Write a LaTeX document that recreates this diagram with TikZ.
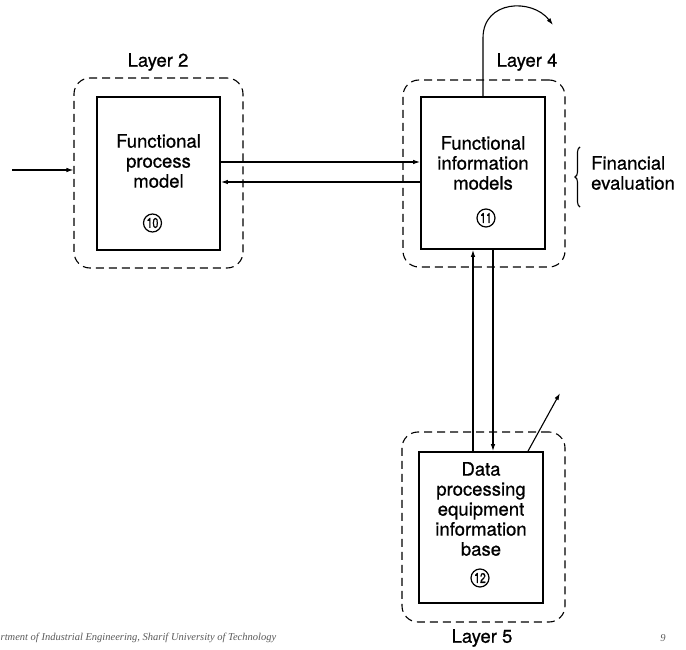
\documentclass[tikz,border=0pt]{standalone}
\usepackage{fontspec}
\setmainfont{TeX Gyre Heros}[FakeBold=0.8]
\newfontfamily\footfont{Liberation Serif}
\usetikzlibrary{arrows.meta,calc,decorations.pathreplacing}
\begin{document}
\begin{tikzpicture}[x=1pt,y=-1pt,
  lbl/.style={font=\fontsize{18.5}{20}\selectfont, inner sep=0pt, align=center},
  boxx/.style={draw, line width=1.7pt, inner sep=0pt},
  layerbox/.style={draw, dashed, dash pattern=on 8pt off 5pt, line width=1.1pt, rounded corners=16pt, inner sep=0pt},
  conn/.style={line width=1.1pt, -{Latex[length=7pt,width=4.5pt]}},
  cnum/.style={draw, circle, line width=1.2pt, inner sep=0pt, minimum size=18pt, font=\fontsize{14}{14}\selectfont},
  foot/.style={font=\footfont\itshape\fontsize{10.5}{13}\selectfont, text=black!65, inner sep=0pt}
]
\useasboundingbox (0,0) rectangle (686,650);

% layer (dashed) boxes
\node[layerbox, minimum width=169pt, minimum height=190pt] (l2) at (158.5,173) {};
\node[layerbox, minimum width=162pt, minimum height=187pt] (l4) at (484,173.5) {};
\node[layerbox, minimum width=163pt, minimum height=190pt] (l5) at (483.5,527) {};

% inner solid boxes
\node[boxx, minimum width=123pt, minimum height=153pt] (b1) at (158.5,173.5) {};
\node[boxx, minimum width=124pt, minimum height=152pt] (b2) at (483,173) {};
\node[boxx, minimum width=124pt, minimum height=151pt] (b3) at (481,527.5) {};

% texts
\node[lbl] (t1) at (158.5,161) {Functional\\process\\model};
\node[lbl] (t2) at (483,163) {Functional\\information\\models};
\node[lbl] (t3) at (481,509) {Data\\processing\\equipment\\information\\base};

\node[cnum] (c1) at (152.5,223) {\scalebox{0.75}[1]{10}};
\node[cnum] (c2) at (486,218) {\scalebox{0.75}[1]{11}};
\node[cnum] (c3) at (480,578) {\scalebox{0.75}[1]{12}};

\node[lbl] (lay2) at (158,62) {Layer 2};
\node[lbl] (lay4) at (527,62) {Layer 4};
\node[lbl] (lay5) at (482,638) {Layer 5};

\node[lbl, align=left, anchor=west] (fin) at (591,173) {Financial\\evaluation};
\draw[line width=1.1pt, decorate, decoration={brace, amplitude=5pt}] (580,207) -- (580,147);

% connectors
\coordinate (src) at (12,170);
\draw[conn] (src) -- (src -| l2.west);
\draw[conn] (b1.east |- 0,162) -- (b2.west |- 0,162);
\draw[conn] (b2.west |- 0,182) -- (b1.east |- 0,182);
\draw[conn] (b3.north -| 473,0) -- (b2.south -| 473,0);
\draw[conn] (b2.south -| 493,0) -- (b3.north -| 493,0);
\coordinate (diagend) at (560,393);
\draw[conn] (b3.north -| 528,0) -- (diagend);
\coordinate (curveend) at (553,25);
\draw[conn] (b2.north -| 483,0) -- (483,38) .. controls (483,0) and (532,-2) .. (curveend);

% footer
\node[foot, anchor=west] (ft) at (0.5,638) {rtment of Industrial Engineering, Sharif University of Technology};
\node[foot] (pg) at (663,638) {9};
\end{tikzpicture}
\end{document}
